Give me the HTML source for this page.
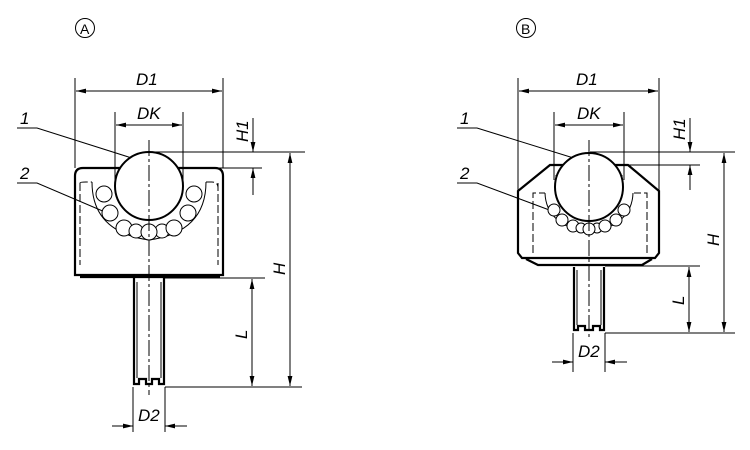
<!DOCTYPE html>
<html><head><style>html,body{margin:0;padding:0;background:#fff}svg{display:block}text{font-family:"Liberation Sans",sans-serif;font-style:italic;font-size:17px;fill:#000}</style></head><body>
<svg width="750" height="450" viewBox="0 0 750 450" xmlns="http://www.w3.org/2000/svg">
<defs>
<marker id="a" viewBox="0 0 10 6" refX="10" refY="3" markerWidth="10" markerHeight="6" orient="auto-start-reverse" markerUnits="userSpaceOnUse"><path d="M0,0.6L10,3L0,5.4z" fill="#000"/></marker>
</defs>
<g fill="none" stroke="#000" stroke-width="1">
<!-- A -->
<circle cx="85" cy="28" r="9.5"/>
<line x1="75" y1="78" x2="75" y2="168"/><line x1="223" y1="78" x2="223" y2="168"/>
<line x1="76" y1="91" x2="222" y2="91" marker-start="url(#a)" marker-end="url(#a)"/>
<line x1="115" y1="112" x2="115" y2="180"/><line x1="183" y1="112" x2="183" y2="180"/>
<line x1="116" y1="125" x2="182" y2="125" marker-start="url(#a)" marker-end="url(#a)"/>
<path d="M17,128H37L138,160"/><path d="M17,183H37L112,215"/>
<line x1="150" y1="152" x2="305" y2="152"/><line x1="205" y1="168" x2="262" y2="168"/>
<line x1="253" y1="118" x2="253" y2="152" marker-end="url(#a)"/><line x1="253" y1="195" x2="253" y2="168" marker-end="url(#a)"/>
<line x1="165" y1="278" x2="265" y2="278"/><line x1="165" y1="387" x2="302" y2="387"/>
<line x1="252" y1="279" x2="252" y2="386" marker-start="url(#a)" marker-end="url(#a)"/>
<line x1="290" y1="153" x2="290" y2="386" marker-start="url(#a)" marker-end="url(#a)"/>
<line x1="133" y1="387" x2="133" y2="432"/><line x1="165" y1="387" x2="165" y2="432"/>
<line x1="112" y1="426" x2="133" y2="426" marker-end="url(#a)"/><line x1="187" y1="426" x2="165" y2="426" marker-end="url(#a)"/>
<g stroke-width="2.2">
<path d="M75,275V176Q75,168 83,168H215Q223,168 223,176V275Z"/>
<line x1="80" y1="277" x2="220" y2="277"/>
<path d="M134,278V384H139V379H146V384H152V379H159V384H164V278"/>
</g>
<path d="M80,183V265M218,183V265M80,183Q80,182 86,182H92M206,182H212Q218,182 218,188" stroke-dasharray="8 3"/>
<path d="M92,182Q92,232 149,240Q206,232 206,182"/>
<g fill="#fff"><circle cx="104" cy="194" r="8"/><circle cx="110" cy="213" r="8"/><circle cx="124" cy="228" r="8"/><circle cx="136" cy="231" r="7"/><circle cx="162" cy="231" r="7"/><circle cx="149" cy="232" r="8"/><circle cx="174" cy="228" r="8"/><circle cx="188" cy="213" r="8"/><circle cx="194" cy="194" r="8"/></g>
<circle cx="149" cy="186" r="34" stroke-width="2" fill="#fff"/>
<line x1="149" y1="140" x2="149" y2="395" stroke-dasharray="16 3 3 3"/>
<line x1="137" y1="282" x2="137" y2="378"/><line x1="161" y1="282" x2="161" y2="378"/>
<!-- B -->
<circle cx="526" cy="28" r="9.5"/>
<line x1="518" y1="78" x2="518" y2="190"/><line x1="659" y1="78" x2="659" y2="190"/>
<line x1="519" y1="91" x2="658" y2="91" marker-start="url(#a)" marker-end="url(#a)"/>
<line x1="554" y1="112" x2="554" y2="180"/><line x1="624" y1="112" x2="624" y2="180"/>
<line x1="555" y1="125" x2="623" y2="125" marker-start="url(#a)" marker-end="url(#a)"/>
<path d="M457,128H477L580,160"/><path d="M457,183H477L552,211"/>
<line x1="590" y1="152" x2="735" y2="152"/><line x1="623" y1="165" x2="700" y2="165"/>
<line x1="690" y1="118" x2="690" y2="152" marker-end="url(#a)"/><line x1="690" y1="190" x2="690" y2="165" marker-end="url(#a)"/>
<line x1="605" y1="266" x2="700" y2="266"/><line x1="605" y1="333" x2="735" y2="333"/>
<line x1="689" y1="267" x2="689" y2="332" marker-start="url(#a)" marker-end="url(#a)"/>
<line x1="724" y1="153" x2="724" y2="332" marker-start="url(#a)" marker-end="url(#a)"/>
<line x1="573" y1="333" x2="573" y2="372"/><line x1="605" y1="333" x2="605" y2="372"/>
<line x1="552" y1="362" x2="573" y2="362" marker-end="url(#a)"/><line x1="627" y1="362" x2="605" y2="362" marker-end="url(#a)"/>
<g stroke-width="2.2">
<path d="M518,191L550,165H628L659,191V253L655,258H522L518,253Z"/>
<path d="M526,259L538,265H642L652,259"/>
<path d="M574,267V330H578V326H585V330H593V326H600V330H604V267"/>
</g>
<path d="M533,253V193H545M647,253V193H634" stroke-dasharray="8 3"/>
<path d="M545,193Q546,225 589,233Q632,225 633,193"/>
<path d="M556,175V188M622,175V188" stroke-dasharray="4 2"/>
<g fill="#fff"><circle cx="554" cy="210" r="6"/><circle cx="562" cy="220" r="6"/><circle cx="573" cy="226" r="6"/><circle cx="581" cy="228" r="5"/><circle cx="597" cy="228" r="5"/><circle cx="589" cy="229" r="6"/><circle cx="605" cy="226" r="6"/><circle cx="616" cy="220" r="6"/><circle cx="624" cy="210" r="6"/></g>
<circle cx="589" cy="187" r="34" stroke-width="2" fill="#fff"/>
<line x1="589" y1="140" x2="589" y2="340" stroke-dasharray="16 3 3 3"/>
<line x1="577" y1="270" x2="577" y2="325"/><line x1="601" y1="270" x2="601" y2="325"/>
</g>
<text x="80" y="34" style="font-style:normal;font-size:14px">A</text>
<text x="521" y="34" style="font-style:normal;font-size:14px">B</text>
<text x="136" y="85">D1</text><text x="137" y="119">DK</text>
<text x="20" y="124">1</text><text x="20" y="179">2</text>
<text x="576" y="85">D1</text><text x="577" y="119">DK</text>
<text x="460" y="124">1</text><text x="460" y="179">2</text>
<text x="138" y="421">D2</text><text x="578" y="357">D2</text>
<text transform="translate(248,142) rotate(-90)">H1</text>
<text transform="translate(685,140) rotate(-90)">H1</text>
<text transform="translate(285,275) rotate(-90)">H</text>
<text transform="translate(719,246) rotate(-90)">H</text>
<text transform="translate(247,339) rotate(-90)">L</text>
<text transform="translate(684,305) rotate(-90)">L</text>
</svg>
</body></html>
